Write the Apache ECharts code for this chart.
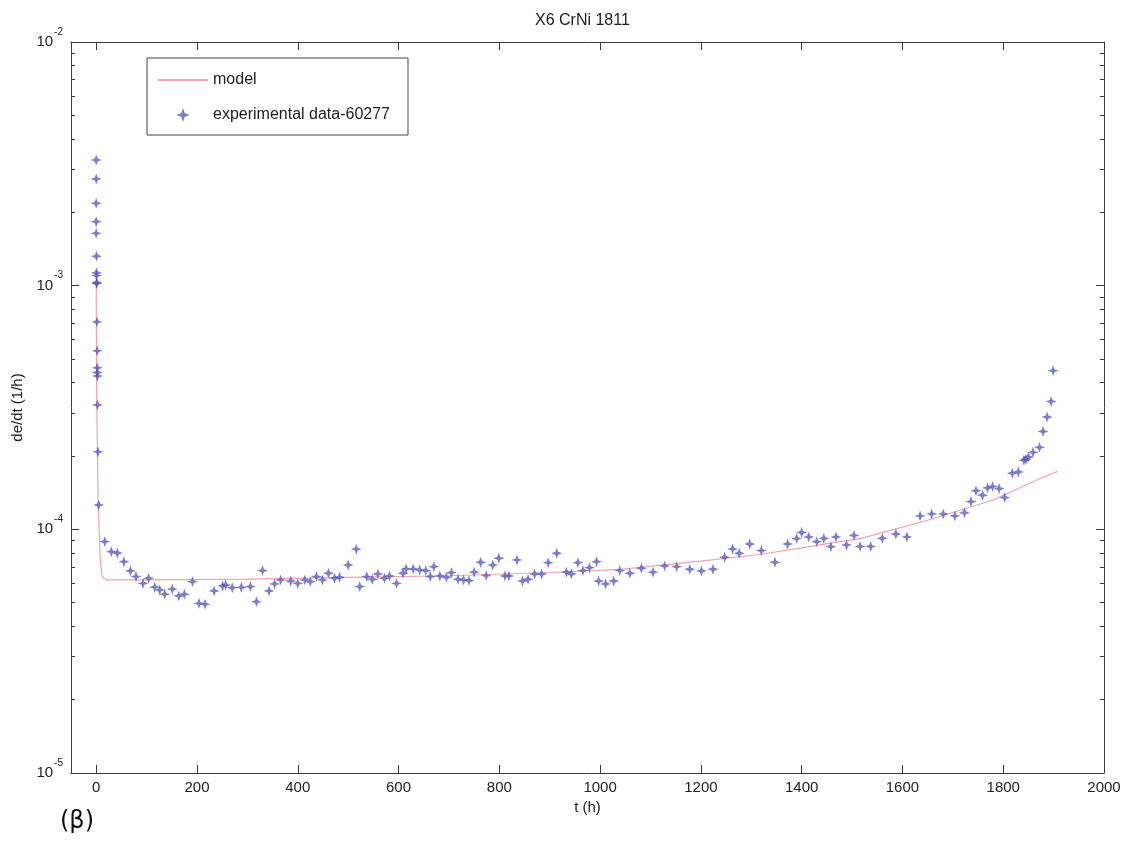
<!DOCTYPE html>
<html>
<head>
<meta charset="utf-8">
<script src="https://cdn.jsdelivr.net/npm/echarts@6/dist/echarts.min.js"></script>
<style>
html,body{margin:0;padding:0;background:#fff;}
#chart{width:1125px;height:841px;}
</style>
</head>
<body>
<div id="chart"></div>
<script>
// ---- data ----
var chartTitle = 'X6 CrNi 1811';
var xTickValues = [0, 200, 400, 600, 800, 1000, 1200, 1400, 1600, 1800, 2000];
var yTickValues = [1e-5, 1e-4, 1e-3, 1e-2];

var modelT = [0, 1, 4, 8, 12, 20, 100, 300, 500, 700, 900, 1040, 1200, 1320, 1400, 1520, 1650, 1780, 1880, 1908];
var modelRate = [1.02e-3, 3.4e-4, 1.25e-4, 7.5e-5, 6.4e-5, 6.2e-5, 6.2e-5, 6.25e-5, 6.35e-5, 6.45e-5, 6.65e-5, 6.85e-5, 7.4e-5, 7.9e-5, 8.4e-5, 9.2e-5, 1.09e-4, 1.32e-4, 1.64e-4, 1.73e-4];

var expT = [0, 0, 0, 0, 0, 0.5, 0.5, 0.5, 1, 1, 1.5, 2, 2, 2, 2.5, 2.5, 3.5, 5,
  17, 30, 42, 55, 68, 79, 93, 104, 116, 126, 136, 151, 164, 175, 191, 204, 216, 234, 251, 257, 270, 288,
  306, 318, 330, 343, 354, 366, 386, 400, 414, 425, 437, 449, 461, 473, 483, 500, 516, 523, 537, 548,
  559, 572, 582, 596, 609, 615, 629, 642, 654, 663, 670, 682, 695, 705, 718, 729, 740, 750, 763, 774,
  787, 799, 811, 819, 835, 846, 857, 870, 884, 897, 914, 933, 943, 956, 966, 979, 993, 997, 1011, 1027,
  1039, 1059, 1082, 1105, 1128, 1152, 1178, 1201, 1224, 1247, 1263, 1276, 1297, 1320, 1347, 1372, 1390, 1400, 1414, 1430,
  1444, 1458, 1468, 1489, 1504, 1516, 1537, 1560, 1587, 1609, 1635, 1658, 1681, 1704, 1723, 1736, 1746, 1759, 1769, 1779,
  1792, 1803, 1818, 1830, 1841, 1845, 1850, 1859, 1872, 1879, 1887, 1895, 1899];

var expRate = [3.28e-3, 2.74e-3, 2.18e-3, 1.83e-3, 1.64e-3, 1.32e-3, 1.13e-3, 1.10e-3, 1.03e-3, 1.02e-3, 7.1e-4, 5.4e-4, 4.6e-4, 4.4e-4, 4.26e-4, 3.24e-4, 2.08e-4, 1.26e-4,
  8.9e-5, 8.1e-5, 8.0e-5, 7.37e-5, 6.75e-5, 6.4e-5, 6.0e-5, 6.3e-5, 5.79e-5, 5.64e-5, 5.42e-5, 5.68e-5, 5.33e-5, 5.42e-5, 6.1e-5, 4.97e-5, 4.93e-5, 5.59e-5, 5.86e-5, 5.91e-5, 5.76e-5, 5.78e-5,
  5.82e-5, 5.05e-5, 6.77e-5, 5.59e-5, 5.97e-5, 6.2e-5, 6.14e-5, 6.0e-5, 6.2e-5, 6.1e-5, 6.4e-5, 6.2e-5, 6.6e-5, 6.3e-5, 6.36e-5, 7.14e-5, 8.29e-5, 5.82e-5, 6.4e-5, 6.24e-5,
  6.56e-5, 6.3e-5, 6.44e-5, 6.0e-5, 6.6e-5, 6.88e-5, 6.88e-5, 6.81e-5, 6.77e-5, 6.4e-5, 7.03e-5, 6.44e-5, 6.36e-5, 6.64e-5, 6.24e-5, 6.2e-5, 6.16e-5, 6.67e-5, 7.33e-5, 6.46e-5,
  7.14e-5, 7.61e-5, 6.44e-5, 6.44e-5, 7.49e-5, 6.14e-5, 6.24e-5, 6.56e-5, 6.56e-5, 7.3e-5, 7.98e-5, 6.67e-5, 6.56e-5, 7.3e-5, 6.77e-5, 6.96e-5, 7.37e-5, 6.14e-5, 5.97e-5, 6.14e-5,
  6.77e-5, 6.6e-5, 6.92e-5, 6.67e-5, 7.08e-5, 7.03e-5, 6.86e-5, 6.75e-5, 6.86e-5, 7.68e-5, 8.31e-5, 7.98e-5, 8.71e-5, 8.18e-5, 7.33e-5, 8.71e-5, 9.16e-5, 9.71e-5, 9.31e-5, 8.9e-5,
  9.18e-5, 8.49e-5, 9.31e-5, 8.63e-5, 9.44e-5, 8.51e-5, 8.51e-5, 9.19e-5, 9.57e-5, 9.31e-5, 1.135e-4, 1.157e-4, 1.157e-4, 1.135e-4, 1.17e-4, 1.30e-4, 1.44e-4, 1.38e-4, 1.48e-4, 1.50e-4,
  1.47e-4, 1.35e-4, 1.70e-4, 1.72e-4, 1.92e-4, 1.94e-4, 1.98e-4, 2.07e-4, 2.17e-4, 2.52e-4, 2.89e-4, 3.35e-4, 4.48e-4];

// ---- build ----
function zip(a, b) {
  var out = [], n = Math.min(a.length, b.length);
  for (var i = 0; i < n; i++) out.push([a[i], b[i]]);
  return out;
}
var yMinorTicks = [];
for (var d = -5; d <= -3; d++) {
  for (var k = 2; k <= 9; k++) yMinorTicks.push(parseFloat((k * Math.pow(10, d)).toPrecision(3)));
}

var FONT = '"Liberation Sans", Arial, Helvetica, sans-serif';
var AX = '#3a3a3a';
var starPath = 'path://M0,-10 L2.6,-2.6 L10,0 L2.6,2.6 L0,10 L-2.6,2.6 L-10,0 L-2.6,-2.6 Z';

function logAxis(pos, withLabels, tickVals, tickLen, withLine) {
  return {
    type: 'log', logBase: 10, min: 1e-5, max: 1e-2, position: pos,
    axisLine: { show: withLine, onZero: false, lineStyle: { color: AX, width: 1 } },
    axisTick: { show: true, inside: true, length: tickLen, customValues: tickVals, lineStyle: { color: AX } },
    axisLabel: withLabels ? {
      show: true, customValues: yTickValues, margin: 8, fontFamily: FONT,
      formatter: function (v) { return '{b|10}{s|' + Math.round(Math.log10(v)) + '}'; },
      rich: {
        b: { fontSize: 15, fontFamily: FONT, color: '#222' },
        s: { fontSize: 10, fontFamily: FONT, color: '#222', padding: [0, 0, 20, 1] }
      }
    } : { show: false },
    splitLine: { show: false },
    minorTick: { show: false }
  };
}

var chart = echarts.init(document.getElementById('chart'), null, { renderer: 'canvas' });
var yLeft = logAxis('left', true, yTickValues, 8, true);
yLeft.name = 'de/dt (1/h)';
yLeft.nameLocation = 'middle';
yLeft.nameGap = 41;
yLeft.nameTextStyle = { fontSize: 15, fontFamily: FONT, color: '#222' };

var option = {
  backgroundColor: '#ffffff',
  animation: false,
  title: {
    text: chartTitle, left: 535, top: 13, padding: 0,
    textStyle: { fontSize: 16, fontWeight: 'normal', fontFamily: FONT, color: '#222' }
  },
  grid: { left: 71, right: 21, top: 42, bottom: 68, containLabel: false },
  legend: {
    left: 147, top: 58, orient: 'vertical',
    padding: [14, 18, 12, 10], itemGap: 19, itemWidth: 50, itemHeight: 14,
    borderColor: '#444', borderWidth: 1, backgroundColor: '#fff',
    textStyle: { fontSize: 16, fontFamily: FONT, color: '#222' },
    data: [
      { name: 'model', itemStyle: { color: 'rgba(0,0,0,0)', borderWidth: 0, opacity: 0 } },
      { name: 'experimental data-60277', icon: starPath }
    ]
  },
  xAxis: [
    {
      type: 'value', min: -50, max: 2000, position: 'bottom',
      axisLine: { show: true, onZero: false, lineStyle: { color: AX } },
      axisTick: { show: true, inside: true, length: 8, customValues: xTickValues, lineStyle: { color: AX } },
      axisLabel: {
        show: true, customValues: xTickValues, fontSize: 15, fontFamily: FONT, color: '#222', margin: 7,
        formatter: function (v) { return String(v); }
      },
      splitLine: { show: false },
      name: 't (h)', nameLocation: 'middle', nameGap: 26,
      nameTextStyle: { fontSize: 15, fontFamily: FONT, color: '#222' }
    },
    {
      type: 'value', min: -50, max: 2000, position: 'top',
      axisLine: { show: true, onZero: false, lineStyle: { color: AX } },
      axisTick: { show: true, inside: true, length: 8, customValues: xTickValues, lineStyle: { color: AX } },
      axisLabel: { show: false },
      splitLine: { show: false }
    }
  ],
  yAxis: [
    yLeft,
    logAxis('left', false, yMinorTicks, 4, false),
    logAxis('right', false, yTickValues, 8, true),
    logAxis('right', false, yMinorTicks, 4, false)
  ],
  series: [
    {
      name: 'model', type: 'line', xAxisIndex: 0, yAxisIndex: 0,
      data: zip(modelT, modelRate), showSymbol: false, symbol: 'none', smooth: false,
      lineStyle: { color: '#f4a3ad', width: 1.2 }, itemStyle: { color: '#f4a3ad' }, z: 2
    },
    {
      name: 'experimental data-60277', type: 'scatter', xAxisIndex: 0, yAxisIndex: 0,
      data: zip(expT, expRate), symbol: starPath, symbolSize: 11,
      itemStyle: { color: 'rgba(78,78,190,0.92)' }, z: 3
    }
  ],
  graphic: [
    {
      type: 'text', left: 60, top: 810,
      style: { text: '(β)', fontSize: 24, fontFamily: '"DejaVu Sans", sans-serif', fill: '#111' }
    }
  ]
};
chart.setOption(option);
</script>
</body>
</html>
